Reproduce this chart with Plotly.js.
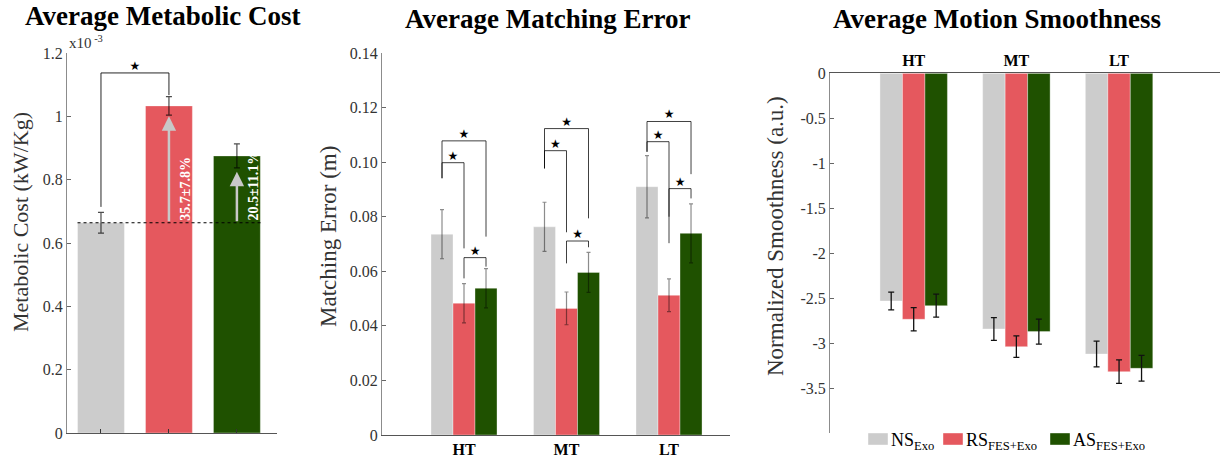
<!DOCTYPE html>
<html>
<head>
<meta charset="utf-8">
<script src="https://cdn.plot.ly/plotly-3.0.1.min.js"></script>
<style>html,body{margin:0;padding:0;background:#fff;}#chart{width:1225px;height:460px;}</style>
</head>
<body>
<div id="chart"></div>
<script>
// ---------- DATA ----------
// Panel 1: metabolic cost (x10^-3 kW/Kg)
const metConds = ['NS_Exo', 'RS_FES+Exo', 'AS_FES+Exo'];
const metMean = [0.664, 1.033, 0.875];
const metSD = [0.033, 0.029, 0.038];
const metArrowTop = [null, 1.0, 0.825];
const metPctLabels = ['', '35.7±7.8%', '20.5±11.1%'];
const metSigBracket = [0.714, 1.137, 1.067]; // left leg bottom, top, right leg bottom (NS vs RS)

// Panel 2: matching error (m)
const tasks = ['HT', 'MT', 'LT'];
const errNS = [0.0736, 0.0763, 0.0910];
const errNSsd = [0.0090, 0.0090, 0.0114];
const errRS = [0.0483, 0.0464, 0.0512];
const errRSsd = [0.0072, 0.0060, 0.0060];
const errAS = [0.0538, 0.0596, 0.0739];
const errASsd = [0.0072, 0.0073, 0.0108];
// significance brackets per task: [condA, condB, leftBottom, top, rightBottom]
const errSig = [
  [[0, 1, 0.0941, 0.0998, 0.0684], [0, 2, 0.0941, 0.1078, 0.0727], [1, 2, 0.0574, 0.0650, 0.0617]],
  [[0, 1, 0.0977, 0.1042, 0.0743], [0, 2, 0.0977, 0.1123, 0.0794], [1, 2, 0.0629, 0.0711, 0.0688]],
  [[0, 1, 0.1038, 0.1075, 0.0703], [0, 2, 0.1038, 0.1149, 0.0956], [1, 2, 0.0800, 0.0903, 0.0867]]
];

// Panel 3: normalized smoothness (a.u.)
const smNS = [-2.530, -2.841, -3.119];
const smNSsd = [0.098, 0.126, 0.143];
const smRS = [-2.733, -3.037, -3.315];
const smRSsd = [0.130, 0.120, 0.130];
const smAS = [-2.582, -2.870, -3.278];
const smASsd = [0.128, 0.139, 0.143];

const legendNames = ['NS<sub>Exo</sub>', 'RS<sub>FES+Exo</sub>', 'AS<sub>FES+Exo</sub>'];

// ---------- STYLE ----------
const cGray = '#cccccc', cRed = '#e5585e', cGreen = '#1f5100';
const colors = [cGray, cRed, cGreen];
const serif = 'Liberation Serif, Times New Roman, serif';
const starFont = {family: 'DejaVu Sans', size: 12, color: '#000'};
const axisLine = '#8c8c8c';
const tickFont = {family: serif, size: 16, color: '#333'};

const traces = [];

// Panel 1
const idx = [0, 1, 2];
traces.push({
  type: 'bar', x: idx, y: metMean, xaxis: 'x', yaxis: 'y', width: 0.69,
  marker: {color: colors, line: {color: 'rgba(255,255,255,0.35)', width: 1}},
  error_y: {type: 'data', array: metSD, visible: true, color: 'rgba(0,0,0,0.7)', thickness: 1.2, width: 3},
  showlegend: false, hoverinfo: 'skip'
});
// baseline dotted line (NS mean)
traces.push({
  type: 'scatter', mode: 'lines', x: [-0.345, 2.35], y: [metMean[0], metMean[0]], xaxis: 'x', yaxis: 'y',
  line: {color: '#000', width: 1.2, dash: 'dot'}, showlegend: false, hoverinfo: 'skip'
});
// significance bracket NS vs RS
traces.push({
  type: 'scatter', mode: 'lines', x: [0, 0, 1, 1], y: [metSigBracket[0], metSigBracket[1], metSigBracket[1], metSigBracket[2]],
  xaxis: 'x', yaxis: 'y', line: {color: 'rgba(0,0,0,0.85)', width: 1}, showlegend: false, hoverinfo: 'skip'
});
traces.push({
  type: 'scatter', mode: 'text', x: [0.5], y: [metSigBracket[1]], text: ['★'], textposition: 'top center',
  textfont: starFont, xaxis: 'x', yaxis: 'y', showlegend: false, hoverinfo: 'skip'
});

// Panel 2
const w2 = 0.2147;
const errMeans = [errNS, errRS, errAS], errSDs = [errNSsd, errRSsd, errASsd];
[0, 1, 2].forEach(k => {
  traces.push({
    type: 'bar', x: [0, 1, 2], y: errMeans[k], xaxis: 'x2', yaxis: 'y2', width: w2, offset: (k - 1.5) * w2,
    marker: {color: colors[k], line: {color: 'rgba(255,255,255,0.35)', width: 1}},
    error_y: {type: 'data', array: errSDs[k], visible: true, color: 'rgba(0,0,0,0.45)', thickness: 1.2, width: 2},
    showlegend: false, hoverinfo: 'skip'
  });
});
errSig.forEach((group, g) => {
  group.forEach(s => {
    const xa = g + (s[0] - 1) * w2, xb = g + (s[1] - 1) * w2;
    traces.push({
      type: 'scatter', mode: 'lines', x: [xa, xa, xb, xb], y: [s[2], s[3], s[3], s[4]],
      xaxis: 'x2', yaxis: 'y2', line: {color: 'rgba(0,0,0,0.75)', width: 1}, showlegend: false, hoverinfo: 'skip'
    });
    traces.push({
      type: 'scatter', mode: 'text', x: [(xa + xb) / 2], y: [s[3]], text: ['★'], textposition: 'top center',
      textfont: starFont, xaxis: 'x2', yaxis: 'y2', showlegend: false, hoverinfo: 'skip'
    });
  });
});

// Panel 3
const w3 = 0.219;
const smMeans = [smNS, smRS, smAS], smSDs = [smNSsd, smRSsd, smASsd];
[0, 1, 2].forEach(k => {
  traces.push({
    type: 'bar', name: legendNames[k], x: [0, 1, 2], y: smMeans[k], xaxis: 'x3', yaxis: 'y3', width: w3, offset: (k - 1.5) * w3,
    marker: {color: colors[k], line: {color: 'rgba(255,255,255,0.35)', width: 1}},
    error_y: {type: 'data', array: smSDs[k], visible: true, color: '#111', thickness: 1.3, width: 3},
    showlegend: false, hoverinfo: 'skip'
  });
});

// ---------- LAYOUT ----------
const W = 1225, H = 460;
const annotations = [
  {text: '<b>Average Metabolic Cost</b>', xref: 'paper', yref: 'paper', x: 162 / W, y: 1 - 16 / H, showarrow: false,
   font: {family: serif, size: 27, color: '#000'}, xanchor: 'center', yanchor: 'middle'},
  {text: '<b>Average Matching Error</b>', xref: 'paper', yref: 'paper', x: 547 / W, y: 1 - 19 / H, showarrow: false,
   font: {family: serif, size: 27, color: '#000'}, xanchor: 'center', yanchor: 'middle'},
  {text: '<b>Average Motion Smoothness</b>', xref: 'paper', yref: 'paper', x: 997 / W, y: 1 - 19 / H, showarrow: false,
   font: {family: serif, size: 27, color: '#000'}, xanchor: 'center', yanchor: 'middle'},
  {text: 'Metabolic Cost (kW/Kg)', xref: 'paper', yref: 'paper', x: 20 / W, y: 1 - 222 / H, textangle: -90, showarrow: false,
   font: {family: serif, size: 22, color: '#333'}, xanchor: 'center', yanchor: 'middle'},
  {text: 'Matching Error (m)', xref: 'paper', yref: 'paper', x: 328 / W, y: 1 - 237 / H, textangle: -90, showarrow: false,
   font: {family: serif, size: 23, color: '#333'}, xanchor: 'center', yanchor: 'middle'},
  {text: 'Normalized Smoothness (a.u.)', xref: 'paper', yref: 'paper', x: 775 / W, y: 1 - 236 / H, textangle: -90, showarrow: false,
   font: {family: serif, size: 23, color: '#333'}, xanchor: 'center', yanchor: 'middle'},
  {text: 'x10<sup> -3</sup>', xref: 'x domain', yref: 'y domain', x: 0, y: 1, xanchor: 'left', yanchor: 'bottom', yshift: 0, showarrow: false,
   font: {family: serif, size: 15, color: '#333'}}
];
// arrows and percent labels in panel 1
[1, 2].forEach(i => {
  annotations.push({
    x: i, y: metArrowTop[i], ax: i, ay: metMean[0], xref: 'x', yref: 'y', axref: 'x', ayref: 'y',
    showarrow: true, arrowhead: 2, arrowsize: 1.15, arrowwidth: 2.5, arrowcolor: '#c8c8c8', text: '', standoff: 0
  });
  annotations.push({
    text: '<b>' + metPctLabels[i] + '</b>', x: i + 0.25, y: metMean[0], xref: 'x', yref: 'y', textangle: -90,
    xanchor: 'center', yanchor: 'bottom', showarrow: false, font: {family: serif, size: 14, color: '#fff'}
  });
});

// custom legend (wide swatches as in the reference)
const legendSwatchX = [868, 943, 1050];
const shapes = [];
legendNames.forEach((nm, k) => {
  const x0 = legendSwatchX[k];
  shapes.push({type: 'rect', xref: 'paper', yref: 'paper', x0: x0 / W, x1: (x0 + 20) / W, y0: 1 - 445 / H, y1: 1 - 433 / H,
    fillcolor: colors[k], line: {color: 'rgba(255,255,255,0.4)', width: 1}});
  annotations.push({text: nm, xref: 'paper', yref: 'paper', x: (x0 + 21) / W, y: 1 - 441 / H, xanchor: 'left', yanchor: 'middle',
    showarrow: false, font: {family: serif, size: 18, color: '#000'}});
});

const commonY = {showline: true, linecolor: axisLine, linewidth: 1, ticks: 'inside', ticklen: 4, tickcolor: '#666',
  tickfont: tickFont, zeroline: false, showgrid: false, fixedrange: true};

const layout = {
  width: W, height: H, margin: {l: 0, r: 0, t: 0, b: 0},
  paper_bgcolor: '#fff', plot_bgcolor: 'rgba(0,0,0,0)',
  barmode: 'overlay', showlegend: false,
  font: {family: serif},
  xaxis: {domain: [67 / W, 277 / W], range: [-0.5, 2.59], anchor: 'y', showline: true, linecolor: '#555', linewidth: 1,
    tickvals: idx, ticktext: ['', '', ''], ticks: 'inside', ticklen: 4, tickcolor: '#333', showgrid: false, zeroline: false, fixedrange: true},
  yaxis: Object.assign({}, commonY, {domain: [27 / H, 407 / H], range: [0, 1.2], anchor: 'x',
    tickvals: [0, 0.2, 0.4, 0.6, 0.8, 1.0, 1.2], ticktext: ['0', '0.2', '0.4', '0.6', '0.8', '1', '1.2']}),
  xaxis2: {domain: [382 / W, 730 / W], range: [-0.8, 2.595], anchor: 'y2', showline: true, linecolor: '#555', linewidth: 1,
    tickvals: [0, 1, 2], ticktext: tasks, ticks: '', tickfont: {family: serif, size: 16, color: '#000', weight: 'bold'},
    showgrid: false, zeroline: false, fixedrange: true},
  yaxis2: Object.assign({}, commonY, {domain: [25 / H, 407 / H], range: [0, 0.14], anchor: 'x2',
    tickvals: [0, 0.02, 0.04, 0.06, 0.08, 0.10, 0.12, 0.14], ticktext: ['0', '0.02', '0.04', '0.06', '0.08', '0.10', '0.12', '0.14']}),
  xaxis3: {domain: [830 / W, 1220 / W], range: [-0.815, 2.983], anchor: 'y3', side: 'top', showline: true, linecolor: '#555', linewidth: 1,
    tickvals: [0, 1, 2], ticktext: tasks, ticks: '', tickfont: {family: serif, size: 16, color: '#000', weight: 'bold'},
    showgrid: false, zeroline: false, fixedrange: true},
  yaxis3: Object.assign({}, commonY, {domain: [26.7 / H, 386.7 / H], range: [-4, 0], anchor: 'x3',
    tickvals: [0, -0.5, -1, -1.5, -2, -2.5, -3, -3.5, -4], ticktext: ['0', '-0.5', '-1', '-1.5', '-2', '-2.5', '-3', '-3.5', '']}),
  shapes: shapes,
  annotations: annotations
};

Plotly.newPlot('chart', traces, layout, {displayModeBar: false, staticPlot: true});
</script>
</body>
</html>
